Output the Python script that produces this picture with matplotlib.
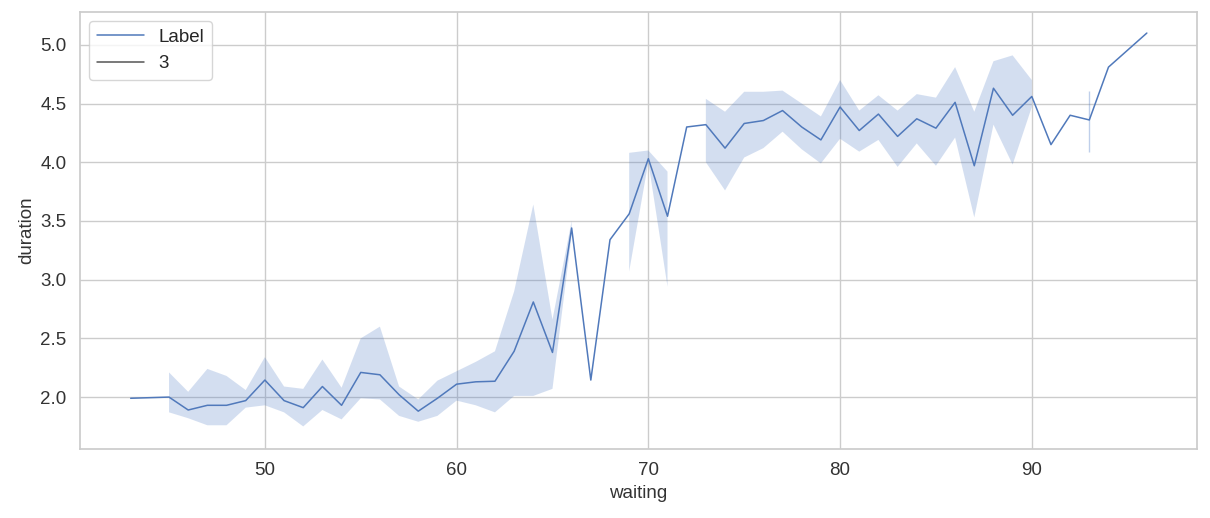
import numpy as np
import matplotlib.pyplot as plt
import seaborn as sns
from matplotlib.lines import Line2D

# mean duration per waiting time, with CI band (nan = no band)
waiting = [43, 45, 46, 47, 48, 49, 50, 51, 52, 53, 54, 55, 56, 57, 58, 59,
           60, 61, 62, 63, 64, 65, 66, 67, 68, 69, 70, 71, 72, 73, 74, 75,
           76, 77, 78, 79, 80, 81, 82, 83, 84, 85, 86, 87, 88, 89, 90, 91,
           92, 93, 94, 96]
duration = [1.99, 2.00, 1.89, 1.93, 1.93, 1.97, 2.145, 1.97, 1.91, 2.09, 1.93, 2.21,
            2.19, 2.02, 1.88, 1.99, 2.11, 2.13, 2.135, 2.39, 2.81, 2.38, 3.44, 2.145,
            3.34, 3.56, 4.03, 3.54, 4.30, 4.32, 4.12, 4.33, 4.355, 4.44, 4.30, 4.19,
            4.47, 4.27, 4.41, 4.22, 4.37, 4.29, 4.51, 3.97, 4.63, 4.40, 4.56, 4.15,
            4.40, 4.36, 4.81, 5.10]
ci_low = [np.nan, 1.87, 1.82, 1.76, 1.76, 1.91, 1.93, 1.87, 1.75, 1.89, 1.81, 1.99,
          1.98, 1.84, 1.79, 1.84, 1.97, 1.93, 1.87, 2.01, 2.01, 2.07, 3.38, np.nan,
          np.nan, 3.07, 4.00, 2.94, np.nan, 4.00, 3.76, 4.04, 4.12, 4.26, 4.11, 3.99,
          4.20, 4.09, 4.19, 3.96, 4.16, 3.97, 4.21, 3.53, 4.32, 3.98, 4.47, np.nan,
          np.nan, 4.09, np.nan, np.nan]
ci_high = [np.nan, 2.21, 2.045, 2.24, 2.18, 2.06, 2.34, 2.09, 2.07, 2.32, 2.08, 2.50,
           2.60, 2.09, 1.98, 2.14, 2.22, 2.30, 2.39, 2.90, 3.64, 2.66, 3.50, np.nan,
           np.nan, 4.08, 4.10, 3.92, np.nan, 4.54, 4.43, 4.60, 4.60, 4.61, 4.50, 4.39,
           4.70, 4.44, 4.57, 4.44, 4.58, 4.55, 4.81, 4.43, 4.86, 4.91, 4.70, np.nan,
           np.nan, 4.61, np.nan, np.nan]

sns.set_theme(style="whitegrid")
plt.rcParams["font.family"] = ["Liberation Sans", "DejaVu Sans"]

x = np.array(waiting, dtype=float)
lo = np.array(ci_low)
hi = np.array(ci_high)
color = "#5079bb"
FS = 13.5

fig = plt.figure(figsize=(12.1, 5.18), dpi=100)
ax = fig.add_axes([0.066, 0.133, 0.923, 0.844])

ax.fill_between(x, lo, hi, color="#4a78c4", alpha=0.24, linewidth=0)
# isolated points with a band show up as a thin vertical stroke
has = ~np.isnan(lo)
prev = np.r_[False, has[:-1]]
nxt = np.r_[has[1:], False]
iso = has & ~prev & ~nxt
ax.vlines(x[iso], lo[iso], hi[iso], color="#4a78c4", alpha=0.35, linewidth=1)

ax.plot(x, duration, color=color, lw=1.1)

ax.set_xlim(40.35, 98.6)
ax.set_ylim(1.557, 5.28)
ax.set_xticks([50, 60, 70, 80, 90])
ax.set_yticks([2.0, 2.5, 3.0, 3.5, 4.0, 4.5, 5.0])
ax.tick_params(labelsize=FS, colors="#333333")
ax.set_xlabel("waiting", fontsize=FS, color="#333333")
ax.set_ylabel("duration", fontsize=FS, color="#333333")

handles = [Line2D([], [], color=color, lw=1.1),
           Line2D([], [], color="#555555", lw=1.1)]
ax.legend(handles, ["Label", "3"], loc="upper left", fontsize=FS,
          handlelength=2.5)

fig.savefig("out.png")
